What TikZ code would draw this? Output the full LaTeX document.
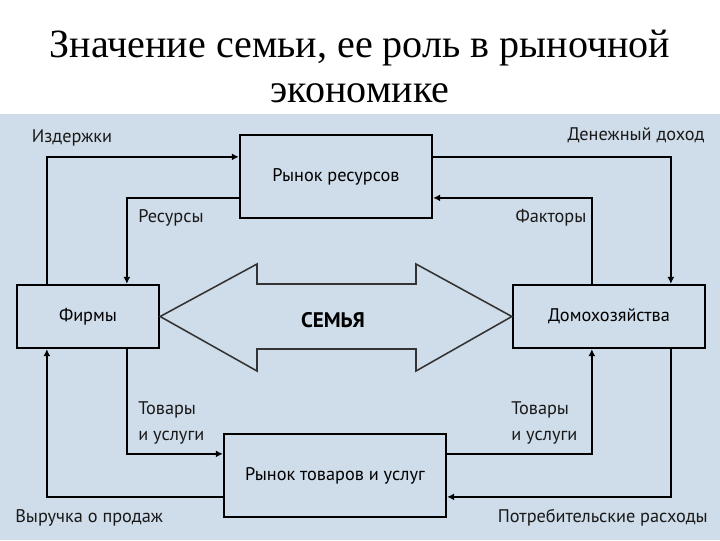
\documentclass[tikz,border=0pt]{standalone}
\usepackage{fontspec}
\setmainfont{Liberation Serif}
\newfontfamily\labelfont{PT Sans}
\usetikzlibrary{arrows.meta,calc,positioning}
\definecolor{panel}{RGB}{207,220,233}

\begin{document}
\begin{tikzpicture}[x=0.025cm,y=-0.025cm]
    % стили
    \tikzset{
        box/.style={rectangle, draw, line width=1.6pt, inner sep=0pt, font=\labelfont\fontsize{13}{15}\selectfont},
        flow/.style={line width=1.6pt, -{Latex[length=5pt,width=5pt]}},
        lbl/.style={font=\labelfont\fontsize{13}{19}\selectfont, inner sep=0pt, align=left, text=black!90},
    }
    \useasboundingbox (0,0) rectangle (720,540);

    % фон и заголовок
    \fill[white] (0,0) rectangle (720,540);
    \fill[panel] (0,114) rectangle (720,540);
    \node[font=\fontsize{28.5}{32}\selectfont, align=center] (title) at (360,66) {Значение семьи, ее роль в рыночной\\экономике};

    % блоки
    \node[box, minimum width=4.8cm, minimum height=2.075cm] (resmkt) at (336,176.5) {Рынок ресурсов};
    \node[box, minimum width=3.55cm, minimum height=1.575cm] (firms) at (88,316.5) {Фирмы};
    \node[box, minimum width=4.8cm, minimum height=1.575cm] (house) at (609,316.5) {Домохозяйства};
    \node[box, minimum width=5.55cm, minimum height=2.075cm] (goods) at (335,475.5) {Рынок товаров и услуг};

    % большая стрелка (СЕМЬЯ)
    \draw[line width=1.1pt, black!80] (firms.east) -- (257,264) -- (257,284) -- (416,284) -- (416,264)
        -- (house.west) -- (416,371) -- (416,349) -- (257,349) -- (257,371) -- cycle;
    \node[font=\labelfont\bfseries\fontsize{15}{17}\selectfont] (family) at (333,320) {СЕМЬЯ};

    % потоки через рынок ресурсов
    \draw[flow] ($(firms.north west)+(31,0)$) |- ($(resmkt.north west)+(0,23)$);
    \draw[flow] ($(resmkt.north west)+(0,64)$) -| ($(firms.north west)+(111,0)$);
    \draw[flow] ($(resmkt.north east)+(0,23)$) -| ($(house.north west)+(159,0)$);
    \draw[flow] ($(house.north west)+(80,0)$) |- ($(resmkt.north east)+(0,64)$);

    % потоки через рынок товаров
    \draw[flow] ($(firms.south west)+(111,0)$) |- ($(goods.north west)+(0,21)$);
    \draw[flow] ($(goods.north west)+(0,64)$) -| ($(firms.south west)+(31,0)$);
    \draw[flow] ($(goods.north east)+(0,21)$) -| ($(house.south west)+(80,0)$);
    \draw[flow] ($(house.south west)+(159,0)$) |- ($(goods.north east)+(0,64)$);

    % подписи
    \node[lbl] (costs) at (72,138) {Издержки};
    \node[lbl] (resources) at (171,218) {Ресурсы};
    \node[lbl] (income) at (636,135) {Денежный доход};
    \node[lbl] (factors) at (551,218) {Факторы};
    \node[lbl, anchor=west] (goodsL) at (138,423) {Товары\\и услуги};
    \node[lbl, anchor=west] (goodsR) at (511,423) {Товары\\и услуги};
    \node[lbl, anchor=west] (revenue) at (15,518) {Выручка о продаж};
    \node[lbl, anchor=east] (spend) at (708,518) {Потребительские расходы};
\end{tikzpicture}
\end{document}
